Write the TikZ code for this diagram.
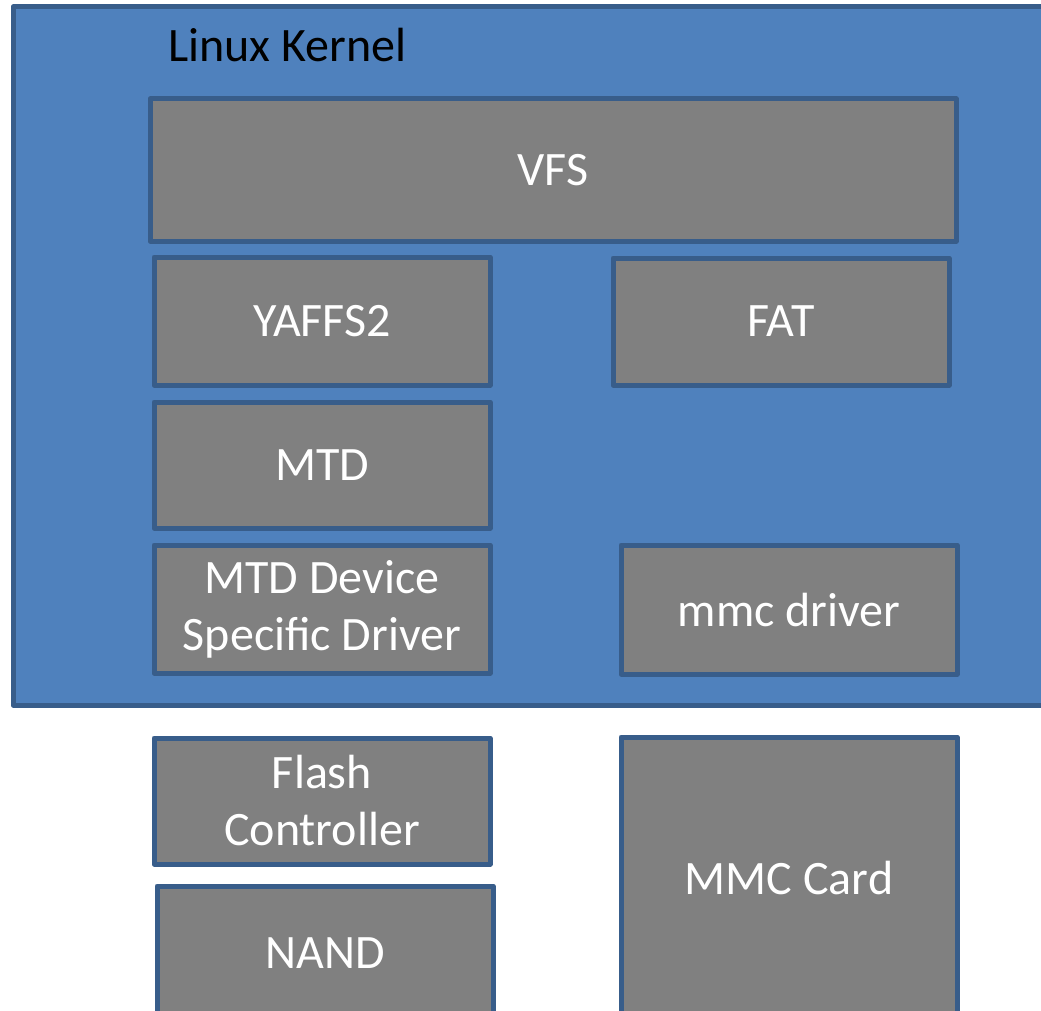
\documentclass[tikz,border=0pt]{standalone}
\usepackage{fontspec}
\setmainfont{Carlito}
\definecolor{kernelblue}{HTML}{4F81BD}
\definecolor{edgeblue}{HTML}{385D8A}
\definecolor{blockgray}{HTML}{808080}
\tikzset{
  layer/.style={draw=edgeblue, fill=blockgray, line width=5pt, line join=round,
    anchor=north west, inner sep=0pt, outer sep=0pt, text=white, align=center,
    font=\fontsize{48}{57}\selectfont},
  kernel/.style={draw=edgeblue, fill=kernelblue, line width=5pt, line join=round,
    anchor=north west, inner sep=0pt, outer sep=0pt},
}
\begin{document}
\begin{tikzpicture}[x=1pt,y=-1pt]
\useasboundingbox (0,0) rectangle (1041,1011);
\clip (0,0) rectangle (1041,1011);
% kernel area
\node[kernel, minimum width=1057pt, minimum height=698pt] (kern) at (13,7) {};
\node[anchor=base west, inner sep=0pt, font=\fontsize{48}{57}\selectfont] (kname) at (168,62) {Linux Kernel};
% kernel layers
\node[layer, minimum width=806pt, minimum height=142pt] (vfs) at (150,99) {VFS};
\node[layer, minimum width=336pt, minimum height=128pt] (yaffs) at (154,257) {YAFFS2};
\node[layer, minimum width=336pt, minimum height=127pt] (fat) at (613,258) {FAT};
\node[layer, minimum width=336pt, minimum height=126pt] (mtd) at (154,402) {MTD};
\node[layer, minimum width=336pt, minimum height=128pt] (mtddev) at (154,545) {\raisebox{0pt}[\height][0pt]{MTD Device}\\Specific Driver};
\node[layer, minimum width=336pt, minimum height=129pt] (mmcdrv) at (621,545) {mmc driver};
% hardware
\node[layer, minimum width=336pt, minimum height=126pt] (flash) at (154,738) {Flash\\Controller};
\node[layer, minimum width=336pt, minimum height=134pt] (nand) at (157,886) {NAND};
\node[layer, minimum width=336pt, minimum height=283pt] (mmccard) at (621,737) {MMC Card};
\end{tikzpicture}
\end{document}
